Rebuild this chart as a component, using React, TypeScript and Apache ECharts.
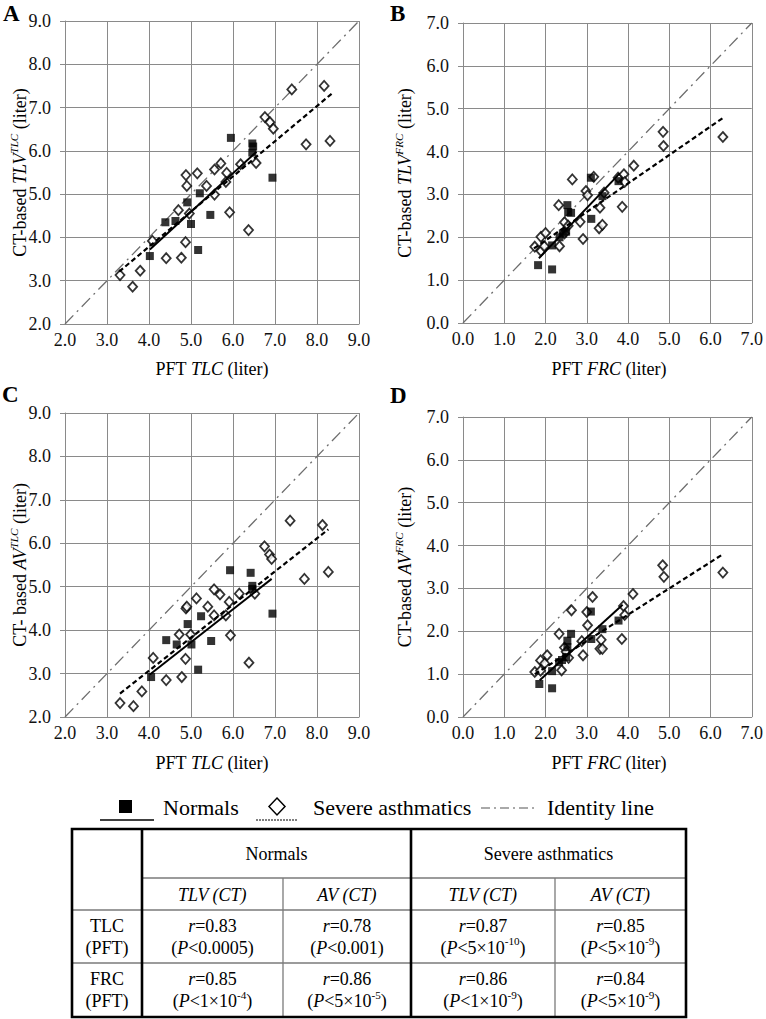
import React, { useEffect, useRef } from "react";
import * as echarts from "echarts";

const FONT = "Liberation Serif, Times New Roman, serif";

// ---------- Data ----------
// Panel A: PFT TLC (x) vs CT-based TLV^TLC (y)
const aNormals = [[4.02,3.57],[4.39,4.35],[4.63,4.38],[4.91,4.81],[5.0,4.31],[5.21,5.02],[5.17,3.71],[5.46,4.52],[5.95,6.30],[6.46,6.17],[6.48,6.10],[6.46,5.96],[6.94,5.38]];
const aAsthma = [[3.31,3.13],[3.61,2.86],[3.79,3.23],[4.08,3.92],[4.41,3.52],[4.77,3.53],[4.87,3.89],[4.70,4.63],[4.96,4.55],[4.90,5.19],[4.88,5.44],[5.15,5.48],[5.37,5.19],[5.56,5.57],[5.56,4.99],[5.71,5.71],[5.85,5.49],[5.83,5.28],[5.92,4.58],[6.18,5.69],[6.37,4.17],[6.55,5.72],[6.76,6.78],[6.88,6.66],[6.96,6.51],[7.40,7.42],[7.74,6.15],[8.17,7.50],[8.31,6.23]];
const aNormalsFit = [[4.02,3.72],[6.56,5.98]];
const aAsthmaFit = [[3.29,3.21],[8.35,7.32]];

// Panel B: PFT FRC (x) vs CT-based TLV^FRC (y)
const bNormals = [[1.82,1.35],[2.16,1.25],[2.16,1.81],[2.34,2.0],[2.42,2.09],[2.5,2.13],[2.53,2.75],[2.55,2.59],[2.62,2.57],[3.10,3.39],[3.11,2.43],[3.38,2.96],[3.77,3.31]];
const bAsthma = [[1.74,1.78],[1.89,2.01],[1.89,1.68],[1.97,1.79],[2.0,2.1],[2.32,2.75],[2.34,1.79],[2.46,2.35],[2.46,2.09],[2.55,2.27],[2.65,3.35],[2.84,2.36],[2.91,1.96],[2.98,3.08],[3.02,2.98],[3.17,3.41],[3.32,2.69],[3.30,2.21],[3.38,2.29],[3.42,3.04],[3.76,3.39],[3.90,3.47],[3.86,2.71],[3.92,3.29],[4.14,3.67],[4.85,4.46],[4.86,4.13],[6.30,4.34]];
const bNormalsFit = [[1.84,1.51],[3.80,3.49]];
const bAsthmaFit = [[1.72,1.74],[6.34,4.81]];

// Panel C: PFT TLC (x) vs CT-based AV^TLC (y)
const cNormals = [[4.05,2.92],[4.41,3.77],[4.66,3.67],[4.92,4.14],[5.01,3.67],[5.17,3.09],[5.24,4.32],[5.48,3.75],[5.93,5.38],[6.42,5.32],[6.46,5.02],[6.46,4.95],[6.94,4.38]];
const cAsthma = [[3.31,2.32],[3.63,2.25],[3.83,2.59],[4.10,3.36],[4.41,2.85],[4.78,2.92],[4.87,3.34],[4.72,3.90],[4.99,3.90],[4.88,4.50],[4.90,4.54],[5.13,4.73],[5.40,4.54],[5.55,4.34],[5.55,4.94],[5.69,4.82],[5.83,4.34],[5.91,4.65],[5.94,3.88],[6.15,4.84],[6.38,3.25],[6.52,4.84],[6.75,5.93],[6.87,5.74],[6.92,5.64],[7.36,6.52],[7.70,5.18],[8.13,6.42],[8.27,5.34]];
const cNormalsFit = [[4.02,2.98],[6.92,5.18]];
const cAsthmaFit = [[3.31,2.54],[8.27,6.32]];

// Panel D: PFT FRC (x) vs CT-based AV^FRC (y)
const dNormals = [[1.85,0.77],[2.16,0.67],[2.16,1.07],[2.33,1.28],[2.40,1.33],[2.50,1.40],[2.53,1.78],[2.53,1.63],[2.62,1.94],[3.10,2.46],[3.11,1.82],[3.38,2.05],[3.77,2.25]];
const dAsthma = [[1.74,1.05],[1.88,1.32],[1.88,1.08],[1.98,1.25],[2.04,1.44],[2.33,1.94],[2.39,1.09],[2.46,1.62],[2.50,1.52],[2.56,1.38],[2.63,2.49],[2.88,1.77],[2.91,1.44],[3.00,2.45],[3.02,2.14],[3.14,2.80],[3.32,1.59],[3.35,1.80],[3.38,1.59],[3.85,1.82],[3.89,2.59],[3.92,2.38],[4.12,2.87],[4.84,3.54],[4.87,3.27],[6.30,3.37]];
const dNormalsFit = [[1.86,0.86],[3.87,2.62]];
const dAsthmaFit = [[1.74,1.0],[6.32,3.81]];

const identityTLC = [[2,2],[9,9]];
const identityFRC = [[0,0],[7,7]];

// Legend & table text
const legendLabels = ["Normals", "Severe asthmatics", "Identity line"];
const tableGroups = ["Normals", "Severe asthmatics"];
const tableSubHeads = ["TLV (CT)", "AV (CT)", "TLV (CT)", "AV (CT)"];
const tableRowHeads = [["TLC", "(PFT)"], ["FRC", "(PFT)"]];
const tableR = [["0.83", "0.78", "0.87", "0.85"], ["0.85", "0.86", "0.86", "0.84"]];
// P values: [prefix, superscript] ; superscript empty -> plain
const tableP = [
  [["<0.0005", ""], ["<0.001", ""], ["<5×10", "-10"], ["<5×10", "-9"]],
  [["<1×10", "-4"], ["<5×10", "-5"], ["<1×10", "-9"], ["<5×10", "-9"]],
];

// ---------- Text helpers ----------
type Seg = { t: string; i?: boolean; b?: boolean; sup?: boolean };
const SUP = 0.62;
let measureCtx: CanvasRenderingContext2D | null = null;
function segWidth(s: Seg, size: number) {
  if (!measureCtx) measureCtx = document.createElement("canvas").getContext("2d");
  const fs = s.sup ? size * SUP : size;
  measureCtx!.font = `${s.i ? "italic " : ""}${s.b ? "bold " : ""}${fs}px ${FONT}`;
  return measureCtx!.measureText(s.t).width;
}
function richLine(segs: Seg[], cx: number, cy: number, size: number, align = "center", color = "#000") {
  const ws = segs.map((s) => segWidth(s, size));
  const total = ws.reduce((a, b) => a + b, 0);
  let x = align === "center" ? cx - total / 2 : align === "left" ? cx : cx - total;
  return segs.map((s, k) => {
    const fs = s.sup ? size * SUP : size;
    const el = {
      type: "text",
      x,
      y: cy + (s.sup ? -size * 0.36 : 0),
      silent: true,
      style: {
        text: s.t,
        fontSize: fs,
        fontFamily: FONT,
        fontStyle: s.i ? "italic" : "normal",
        fontWeight: s.b ? "bold" : "normal",
        fill: color,
        align: "left",
        verticalAlign: "middle",
        textAlign: "left",
        textVerticalAlign: "middle",
      },
    };
    x += ws[k];
    return el;
  });
}
function rotatedTitle(segs: Seg[], cx: number, cy: number, size: number) {
  return { type: "group", x: cx, y: cy, rotation: Math.PI / 2, silent: true, children: richLine(segs, 0, 0, size) };
}

// ---------- Panels ----------
const panels = [
  { grid: { left: 65, top: 21, width: 294, height: 303 }, min: 2, max: 9, n: aNormals, s: aAsthma, nf: aNormalsFit, sf: aAsthmaFit, id: identityTLC },
  { grid: { left: 463, top: 23, width: 292, height: 300 }, min: 0, max: 7, n: bNormals, s: bAsthma, nf: bNormalsFit, sf: bAsthmaFit, id: identityFRC },
  { grid: { left: 65, top: 413, width: 294, height: 304 }, min: 2, max: 9, n: cNormals, s: cAsthma, nf: cNormalsFit, sf: cAsthmaFit, id: identityTLC },
  { grid: { left: 463, top: 417, width: 292, height: 300 }, min: 0, max: 7, n: dNormals, s: dAsthma, nf: dNormalsFit, sf: dAsthmaFit, id: identityFRC },
];

function buildOption() {
  const GRID = "#8a8a8a";
  const fmt = (v: number) => v.toFixed(1);
  const grids = panels.map((p) => ({ ...p.grid, containLabel: false }));
  const xAxes = panels.map((p, i) => ({
    type: "value", gridIndex: i, min: p.min, max: p.max, interval: 1,
    axisLine: { show: true, onZero: false, lineStyle: { color: GRID, width: 1 } },
    axisTick: { show: false },
    axisLabel: { margin: 7, fontFamily: FONT, fontSize: 18, color: "#111", formatter: fmt },
    splitLine: { show: true, lineStyle: { color: GRID, width: 1 } },
  }));
  const yAxes = panels.map((p, i) => ({
    type: "value", gridIndex: i, min: p.min, max: p.max, interval: 1,
    axisLine: { show: true, onZero: false, lineStyle: { color: GRID, width: 1 } },
    axisTick: { show: true, length: 5, lineStyle: { color: GRID } },
    axisLabel: { margin: 14, fontFamily: FONT, fontSize: 18, color: "#111", formatter: fmt },
    splitLine: { show: true, lineStyle: { color: GRID, width: 1 } },
  }));
  const series: any[] = [];
  panels.forEach((p, i) => {
    series.push({
      type: "line", xAxisIndex: i, yAxisIndex: i, data: p.id, symbol: "none", silent: true, z: 2,
      lineStyle: { color: "#6e6e6e", width: 1.3, type: [12, 5, 2, 5] },
    });
    series.push({
      type: "scatter", xAxisIndex: i, yAxisIndex: i, data: p.s, symbol: "diamond", symbolSize: [9, 10], z: 3,
      itemStyle: { color: "#fff", borderColor: "#000", borderWidth: 1.8 },
    });
    series.push({
      type: "scatter", xAxisIndex: i, yAxisIndex: i, data: p.n, symbol: "rect", symbolSize: 8, z: 4,
      itemStyle: { color: "#000" },
    });
    series.push({
      type: "line", xAxisIndex: i, yAxisIndex: i, data: p.nf, symbol: "none", silent: true, z: 5,
      lineStyle: { color: "#000", width: 2 },
    });
    series.push({
      type: "line", xAxisIndex: i, yAxisIndex: i, data: p.sf, symbol: "none", silent: true, z: 5,
      lineStyle: { color: "#000", width: 2.2, type: [5, 3] },
    });
  });

  const g: any[] = [];
  // panel letters
  const letters = [["A", 3, 13], ["B", 390, 13], ["C", 2, 394], ["D", 390, 395]];
  letters.forEach(([t, x, y]) => g.push(...richLine([{ t: t as string, b: true }], x as number, y as number, 23, "left")));
  // y titles
  g.push(rotatedTitle([{ t: "CT-based " }, { t: "TLV", i: true }, { t: "TLC", i: true, sup: true }, { t: " (liter)" }], 20, 172.5, 18));
  g.push(rotatedTitle([{ t: "CT-based " }, { t: "TLV", i: true }, { t: "FRC", i: true, sup: true }, { t: " (liter)" }], 405, 173, 18));
  g.push(rotatedTitle([{ t: "CT- based " }, { t: "AV", i: true }, { t: "TLC", i: true, sup: true }, { t: " (liter)" }], 20, 565, 18));
  g.push(rotatedTitle([{ t: "CT-based " }, { t: "AV", i: true }, { t: "FRC", i: true, sup: true }, { t: " (liter)" }], 405, 567, 18));
  // x titles
  g.push(...richLine([{ t: "PFT " }, { t: "TLC", i: true }, { t: " (liter)" }], 212, 369, 18));
  g.push(...richLine([{ t: "PFT " }, { t: "FRC", i: true }, { t: " (liter)" }], 609, 369, 18));
  g.push(...richLine([{ t: "PFT " }, { t: "TLC", i: true }, { t: " (liter)" }], 212, 763, 18));
  g.push(...richLine([{ t: "PFT " }, { t: "FRC", i: true }, { t: " (liter)" }], 609, 763, 18));

  // legend
  g.push({ type: "rect", silent: true, shape: { x: 119, y: 800, width: 13, height: 13 }, style: { fill: "#000" } });
  g.push({ type: "line", silent: true, shape: { x1: 100, y1: 820, x2: 154, y2: 820 }, style: { stroke: "#000", lineWidth: 1.5 } });
  g.push(...richLine([{ t: legendLabels[0] }], 163, 807, 22, "left"));
  g.push({ type: "polygon", silent: true, shape: { points: [[277, 798], [285, 806.5], [277, 815], [269, 806.5]] }, style: { fill: "#fff", stroke: "#000", lineWidth: 1.5 } });
  g.push({ type: "line", silent: true, shape: { x1: 256, y1: 820, x2: 298, y2: 820 }, style: { stroke: "#000", lineWidth: 1, lineDash: [2, 1] } });
  g.push(...richLine([{ t: legendLabels[1] }], 313, 807, 22, "left"));
  g.push({ type: "line", silent: true, shape: { x1: 481, y1: 808, x2: 535, y2: 808 }, style: { stroke: "#555", lineWidth: 1.2, lineDash: [9, 4, 2, 4] } });
  g.push(...richLine([{ t: legendLabels[2] }], 547, 807, 22, "left"));

  // table
  const L = 72, R = 686, T = 829, B = 1017;
  const c1 = 142, c2 = 283, cm = 411, c3 = 555;
  const r1 = 878, r2 = 910, r3 = 963;
  const thin = { stroke: "#7a7a7a", lineWidth: 1.3 };
  const thick = { stroke: "#000", lineWidth: 2.6 };
  const ln = (x1: number, y1: number, x2: number, y2: number, st: any) =>
    g.push({ type: "line", silent: true, shape: { x1, y1, x2, y2 }, style: st });
  ln(c1, r1, R, r1, thin);
  ln(L, r2, R, r2, thin);
  ln(L, r3, R, r3, thin);
  ln(c2, r1, c2, B, thin);
  ln(c3, r1, c3, B, thin);
  ln(c1, T, c1, B, thick);
  ln(cm, T, cm, B, thick);
  g.push({ type: "rect", silent: true, shape: { x: L, y: T, width: R - L, height: B - T }, style: { fill: "none", stroke: "#000", lineWidth: 2.6 } });
  const TS = 18;
  g.push(...richLine([{ t: tableGroups[0] }], (c1 + cm) / 2, (T + r1) / 2, TS));
  g.push(...richLine([{ t: tableGroups[1] }], (cm + R) / 2, (T + r1) / 2, TS));
  const colCenters = [(c1 + c2) / 2, (c2 + cm) / 2, (cm + c3) / 2, (c3 + R) / 2];
  tableSubHeads.forEach((h, k) => g.push(...richLine([{ t: h, i: true }], colCenters[k], (r1 + r2) / 2 + 1, TS)));
  const rowMid = [(r2 + r3) / 2, (r3 + B) / 2];
  tableRowHeads.forEach((rh, ri) => {
    g.push(...richLine([{ t: rh[0] }], (L + c1) / 2, rowMid[ri] - 11, TS));
    g.push(...richLine([{ t: rh[1] }], (L + c1) / 2, rowMid[ri] + 11, TS));
    tableR[ri].forEach((rv, k) => {
      g.push(...richLine([{ t: "r", i: true }, { t: "=" + rv }], colCenters[k], rowMid[ri] - 11, TS));
      const [pre, sup] = tableP[ri][k];
      const segs: Seg[] = [{ t: "(" }, { t: "P", i: true }, { t: pre }];
      if (sup) segs.push({ t: sup, sup: true });
      segs.push({ t: ")" });
      g.push(...richLine(segs, colCenters[k], rowMid[ri] + 11, TS));
    });
  });

  return {
    animation: false,
    backgroundColor: "#fff",
    textStyle: { fontFamily: FONT },
    grid: grids,
    xAxis: xAxes,
    yAxis: yAxes,
    series,
    graphic: { elements: g },
  };
}

export default function App() {
  const ref = useRef<HTMLDivElement>(null);
  useEffect(() => {
    if (!ref.current) return;
    const chart = echarts.init(ref.current, undefined, { renderer: "svg" });
    chart.setOption(buildOption() as any);
    return () => chart.dispose();
  }, []);
  return <div ref={ref} style={{ position: "absolute", left: 0, top: 0, width: 766, height: 1019, background: "#fff" }} />;
}
